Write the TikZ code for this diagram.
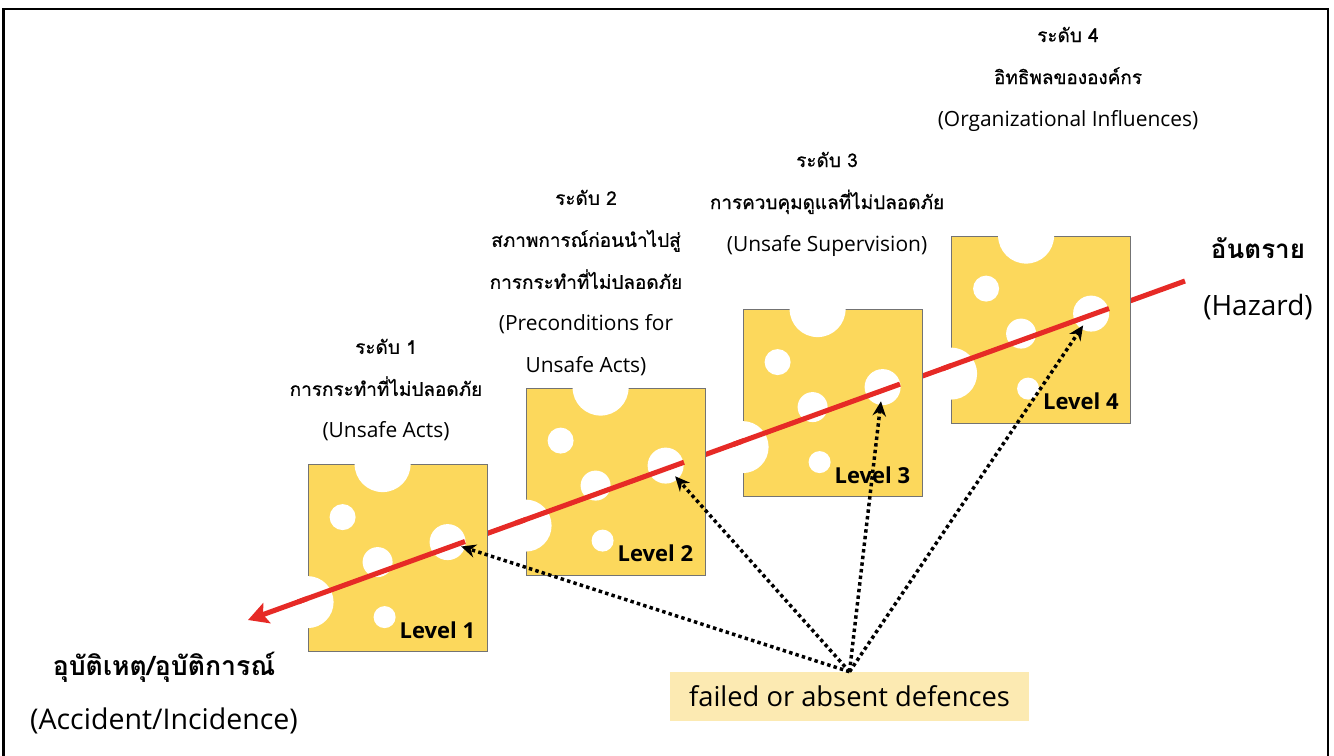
\documentclass[tikz,border=0pt]{standalone}
\usepackage{fontspec}
\usepackage{tikz}
\setmainfont{Open Sans}
\newfontfamily\thai[Script=Thai]{Loma}
\newfontfamily\thaim[Script=Thai, FakeBold=0.8]{Loma}
\newcommand{\thline}[1]{{\thaim\fontsize{14.2}{31.5}\selectfont #1}}
\definecolor{cheese}{RGB}{252,216,92}
\definecolor{hazred}{RGB}{230,42,38}
\definecolor{boxyellow}{RGB}{252,234,178}
\tikzstyle{slice} = [rectangle, minimum width=134.25pt, minimum height=140.25pt, inner sep=0pt, fill=cheese, draw=black!55, line width=0.6pt]
\tikzstyle{hole} = [circle, inner sep=0pt, fill=white]
\tikzstyle{redline} = [draw=hazred, line width=3.8pt]
\tikzstyle{arrow} = [-{Stealth[length=11pt,width=10pt]}, line width=2.6pt, dash pattern=on 2.6pt off 2.4pt, shorten >=-3pt]
\tikzstyle{lbl} = [align=center, font=\fontsize{15.7}{31.5}\selectfont]
\tikzstyle{lvl} = [anchor=south east, inner sep=0pt, font=\bfseries\fontsize{16.5}{18}\selectfont]
\usetikzlibrary{arrows.meta, positioning, calc}

\begin{document}
\begin{tikzpicture}[x=0.75pt, y=-0.75pt]
  \useasboundingbox (0,0) rectangle (1334,756);
  \draw[line width=2pt] (3.7,756) -- (3.7,9) -- (1328,9) -- (1328,756);

  \coordinate (hz) at (1185,281);
  \coordinate (acc) at (248,620);
  \draw[redline, -{Stealth[length=15pt,width=16pt,inset=3pt]}] (hz) -- (acc);

  % level 1
  \node[slice] (s1) at (397.5,558) {};
  \begin{scope}[shift={(s1.north west)}]
    \fill[white] (103,0) arc[start angle=0, end angle=180, radius=28] -- cycle;
    \fill[white] (0,112) arc[start angle=-90, end angle=90, radius=26] -- cycle;
    \node[hole, minimum size=19.5pt] (s1b) at (35,53) {};
    \node[hole, minimum size=22.5pt] (s1c) at (70,98) {};
    \node[hole, minimum size=16.5pt] (s1e) at (77,153) {};
    \node[hole, minimum size=27pt] (h1) at (140,78) {};
  \end{scope}
  \draw[redline] ($(acc)!0.0534!(hz)$) -- ($(acc)!0.2316!(hz)$);

  % level 2
  \node[slice] (s2) at (615.5,481.5) {};
  \begin{scope}[shift={(s2.north west)}]
    \fill[white] (103,0) arc[start angle=0, end angle=180, radius=28] -- cycle;
    \fill[white] (0,112) arc[start angle=-90, end angle=90, radius=26] -- cycle;
    \node[hole, minimum size=19.5pt] (s2b) at (35,53) {};
    \node[hole, minimum size=22.5pt] (s2c) at (70,98) {};
    \node[hole, minimum size=16.5pt] (s2e) at (77,153) {};
    \node[hole, minimum size=27pt] (h2) at (140,78) {};
  \end{scope}
  \draw[redline] ($(acc)!0.2860!(hz)$) -- ($(acc)!0.4653!(hz)$);

  % level 3
  \node[slice] (s3) at (832.5,403) {};
  \begin{scope}[shift={(s3.north west)}]
    \fill[white] (103,0) arc[start angle=0, end angle=180, radius=28] -- cycle;
    \fill[white] (0,112) arc[start angle=-90, end angle=90, radius=26] -- cycle;
    \node[hole, minimum size=19.5pt] (s3b) at (35,53) {};
    \node[hole, minimum size=22.5pt] (s3c) at (70,98) {};
    \node[hole, minimum size=16.5pt] (s3e) at (77,153) {};
    \node[hole, minimum size=27pt] (h3) at (140,78) {};
  \end{scope}
  \draw[redline] ($(acc)!0.5176!(hz)$) -- ($(acc)!0.6958!(hz)$);

  % level 4
  \node[slice] (s4) at (1041,329.5) {};
  \begin{scope}[shift={(s4.north west)}]
    \fill[white] (103,0) arc[start angle=0, end angle=180, radius=28] -- cycle;
    \fill[white] (0,112) arc[start angle=-90, end angle=90, radius=26] -- cycle;
    \node[hole, minimum size=19.5pt] (s4b) at (35,53) {};
    \node[hole, minimum size=22.5pt] (s4c) at (70,98) {};
    \node[hole, minimum size=16.5pt] (s4e) at (77,153) {};
    \node[hole, minimum size=27pt] (h4) at (140,78) {};
  \end{scope}
  \draw[redline] ($(acc)!0.7407!(hz)$) -- ($(acc)!0.9189!(hz)$);

  \node[lvl] (l1) at ([xshift=-9pt,yshift=9.75pt]s1.south east) {Level 1};
  \node[lvl] (l2) at ([xshift=-9pt,yshift=9.75pt]s2.south east) {Level 2};
  \node[lvl] (l3) at ([xshift=-9pt,yshift=9.75pt]s3.south east) {Level 3};
  \node[lvl] (l4) at ([xshift=-9pt,yshift=9.75pt]s4.south east) {Level 4};

  \node[lbl] (t1) at (386,390) {\thline{ระดับ 1}\\\thline{การกระทำที่ไม่ปลอดภัย}\\(Unsafe Acts)};
  \node[lbl] (t2) at (586,283) {\thline{ระดับ 2}\\\thline{สภาพการณ์ก่อนนำไปสู่}\\\thline{การกระทำที่ไม่ปลอดภัย}\\(Preconditions for\\Unsafe Acts)};
  \node[lbl] (t3) at (827,204) {\thline{ระดับ 3}\\\thline{การควบคุมดูแลที่ไม่ปลอดภัย}\\(Unsafe Supervision)};
  \node[lbl] (t4) at (1068,79) {\thline{ระดับ 4}\\\thline{อิทธิพลขององค์กร}\\(Organizational Influences)};

  \node[align=center, font=\fontsize{21}{42.75}\selectfont] (haz) at (1258,279) {{\thai\bfseries\fontsize{19.5}{42.75}\selectfont อันตราย}\\(Hazard)};
  \node[align=center, font=\fontsize{21.4}{41}\selectfont] (acctxt) at (164,693) {{\thai\bfseries\fontsize{20}{41}\selectfont อุบัติเหตุ/อุบัติการณ์}\\(Accident/Incidence)};

  \node[fill=boxyellow, minimum width=269pt, minimum height=36.75pt, font=\fontsize{20.5}{24}\selectfont] (def) at (849.5,696.5) {failed or absent defences};

  \draw[arrow] (def.north) -- (h1);
  \draw[arrow] (def.north) -- (h2);
  \draw[arrow] (def.north) -- (h3);
  \draw[arrow] (def.north) -- (h4);
\end{tikzpicture}
\end{document}
